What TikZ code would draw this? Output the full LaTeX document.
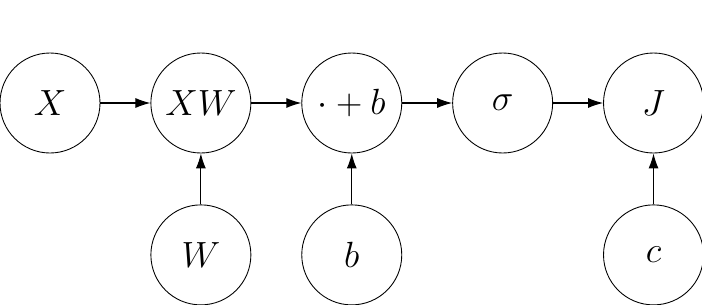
\documentclass[tikz,border=0pt]{standalone}
\usepackage{amsmath}
\usepackage{tikz}
\usetikzlibrary{arrows.meta, positioning}

\begin{document}
\begin{tikzpicture}[every node/.style={font=\huge},
  op/.style={draw, circle, minimum size=2cm, inner sep=0pt, line width=0.5pt},
  flow/.style={-{Latex[length=3mm, width=2mm]}, line width=0.6pt}]
\useasboundingbox (0,0) rectangle (14.04,6.08);
% forward chain (top row)
\node[op] (x) at (1,4.02) {$X$};
\node[op, right=1cm of x] (xw) {$XW$};
\node[op, right=1cm of xw] (addb) {$\cdot + b$};
\node[op, right=1cm of addb] (sig) {$\sigma$};
\node[op, right=1cm of sig] (cost) {$J$};
% parameters (bottom row)
\node[op, below=1.02cm of xw] (w) {$W$};
\node[op, below=1.02cm of addb] (b) {$b$};
\node[op, below=1.02cm of cost] (c) {$c$};
% connectors
\draw[flow] (x) -- (xw);
\draw[flow] (xw) -- (addb);
\draw[flow] (addb) -- (sig);
\draw[flow] (sig) -- (cost);
\draw[flow] (w) -- (xw);
\draw[flow] (b) -- (addb);
\draw[flow] (c) -- (cost);
\end{tikzpicture}
\end{document}
